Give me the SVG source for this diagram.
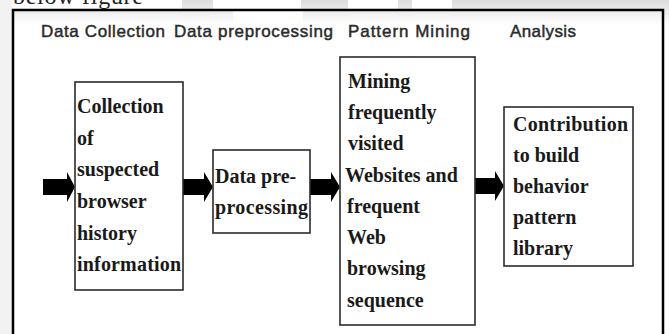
<svg xmlns="http://www.w3.org/2000/svg" width="669" height="334" viewBox="0 0 669 334">
<defs>
<linearGradient id="topfade" x1="0" y1="0" x2="0" y2="1">
<stop offset="0" stop-color="#dcdcdc"/>
<stop offset="1" stop-color="#ffffff"/>
</linearGradient>
<style>
.hdr{font-family:"Liberation Sans",Arial,sans-serif;font-size:17px;fill:#2a2a2a;stroke:#2a2a2a;stroke-width:0.45}
.lbl{font-family:"Liberation Serif","Times New Roman",serif;font-size:20px;font-weight:bold;fill:#1a1a1a}
.box{fill:#ffffff;stroke:#2b2b2b;stroke-width:1.6}
.arr{fill:#000000}
</style>
</defs>
<rect x="0" y="0" width="669" height="334" fill="#ffffff"/>
<rect x="0" y="0" width="669" height="24" fill="url(#topfade)"/>
<rect x="0" y="0" width="13" height="334" fill="#f2f2f2"/>
<rect x="12" y="0" width="170" height="9" fill="#ffffff"/>
<rect x="213" y="0" width="88" height="9" fill="#ffffff"/>
<rect x="348" y="0" width="50" height="9" fill="#ffffff"/>
<rect x="412" y="0" width="40" height="9" fill="#ffffff"/>
<rect x="233" y="11" width="70" height="13" fill="#ffffff"/>
<text x="13" y="4" font-family="'Liberation Serif','Times New Roman',serif" font-size="24" fill="#222" textLength="130">below figure</text>
<rect x="13" y="10" width="650" height="340" fill="none" stroke="#000" stroke-width="2.5"/>
<g id="headers">
<text class="hdr" x="41" y="37" textLength="124">Data Collection</text>
<text class="hdr" x="174" y="37" textLength="159">Data preprocessing</text>
<text class="hdr" x="348" y="37" textLength="122">Pattern Mining</text>
<text class="hdr" x="510" y="37" textLength="66">Analysis</text>
</g>
<g id="connectors">
<polygon class="arr" points="43,179 67,179 67,172 75,187 67,202 67,195 43,195"/>
<polygon class="arr" points="183,179 204,179 204,172 213,187 204,202 204,195 183,195"/>
<polygon class="arr" points="310,179 331,179 331,172 340,187 331,202 331,195 310,195"/>
<polygon class="arr" points="475,178 495,178 495,171 504,186 495,201 495,194 475,194"/>
</g>
<g id="node-collection">
<rect class="box" x="75" y="82" width="108" height="208"/>
<text class="lbl" x="77" y="113">Collection</text>
<text class="lbl" x="77" y="145">of</text>
<text class="lbl" x="77" y="176">suspected</text>
<text class="lbl" x="77" y="208">browser</text>
<text class="lbl" x="77" y="240">history</text>
<text class="lbl" x="77" y="271" textLength="104">information</text>
</g>
<g id="node-preprocessing">
<rect class="box" x="213" y="150" width="97" height="83"/>
<text class="lbl" x="215" y="183">Data pre-</text>
<text class="lbl" x="215" y="214" textLength="93">processing</text>
</g>
<g id="node-mining">
<rect class="box" x="340" y="57" width="135" height="268"/>
<text class="lbl" x="348" y="88">Mining</text>
<text class="lbl" x="348" y="119">frequently</text>
<text class="lbl" x="348" y="150">visited</text>
<text class="lbl" x="345" y="182">Websites and</text>
<text class="lbl" x="347" y="213">frequent</text>
<text class="lbl" x="347" y="244">Web</text>
<text class="lbl" x="347" y="275">browsing</text>
<text class="lbl" x="347" y="307">sequence</text>
</g>
<g id="node-analysis">
<rect class="box" x="504" y="107" width="129" height="159"/>
<text class="lbl" x="513" y="131" textLength="115">Contribution</text>
<text class="lbl" x="513" y="162">to build</text>
<text class="lbl" x="513" y="193">behavior</text>
<text class="lbl" x="513" y="224">pattern</text>
<text class="lbl" x="513" y="255">library</text>
</g>
</svg>
